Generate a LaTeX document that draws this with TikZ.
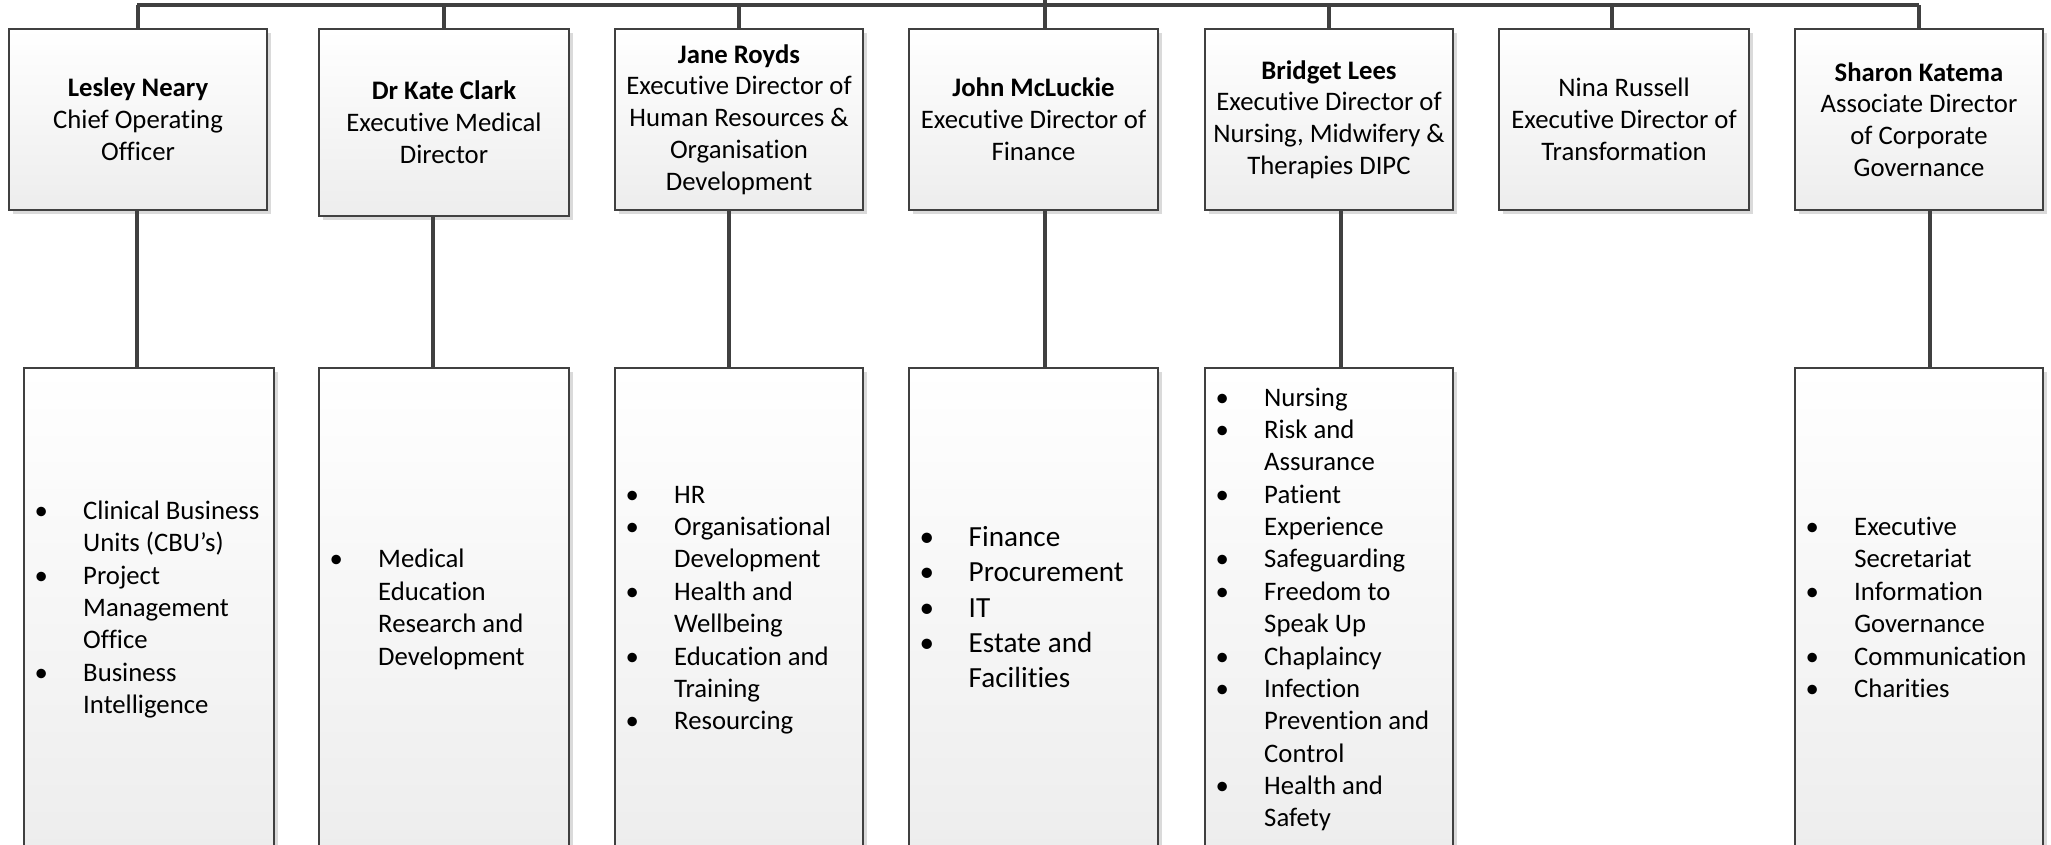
\documentclass[tikz,border=0pt]{standalone}
\usepackage{fontspec}
\setmainfont{Carlito}[Ligatures={NoCommon}, Contextuals={NoAlternate}]
\usepackage{xcolor}
\usepackage{tikz}
\usetikzlibrary{shadows}

\definecolor{linegrey}{HTML}{404040}
\definecolor{shadegrey}{HTML}{EDEDED}
\definecolor{shadowgrey}{HTML}{DADADA}

\begin{document}
\begin{tikzpicture}[x=0.01cm, y=-0.01cm,
	post/.style={rectangle, draw=linegrey, line width=0.45pt, top color=white, bottom color=shadegrey,
		general shadow={fill=shadowgrey, shadow xshift=0.04cm, shadow yshift=-0.04cm},
		minimum height=1.81cm, inner sep=1pt, align=center, font=\fontsize{7.6}{9.05}\selectfont},
	duties/.style={rectangle, draw=linegrey, line width=0.45pt, top color=white, bottom color=shadegrey,
		general shadow={fill=shadowgrey, shadow xshift=0.04cm, shadow yshift=-0.04cm},
		minimum height=4.84cm},
	items/.style={anchor=west, inner sep=0pt, font=\fontsize{7.6}{9.2}\selectfont},
	link/.style={draw=linegrey, line width=0.9pt}]
	\useasboundingbox (0,0) rectangle (2051,844);
	\clip (0,0) rectangle (2051,844);

	% directors
	\node[post, minimum width=2.58cm] (coo) at (138, 119.5) {\textbf{Lesley Neary}\\Chief Operating\\Officer};
	\node[post, minimum width=2.50cm, minimum height=1.87cm] (cmo) at (444, 122.5) {\textbf{Dr Kate Clark}\\Executive Medical\\Director};
	\node[post, minimum width=2.48cm] (hr) at (739, 119.5) {\textbf{Jane Royds}\\Executive Director of\\Human Resources \&\\Organisation\\Development};
	\node[post, minimum width=2.49cm] (fin) at (1033.5, 119.5) {\textbf{John McLuckie}\\Executive Director of\\Finance};
	\node[post, minimum width=2.48cm] (nur) at (1329, 119.5) {\textbf{Bridget Lees}\\Executive Director of\\Nursing, Midwifery \&\\Therapies DIPC};
	\node[post, minimum width=2.50cm] (tra) at (1624, 119.5) {Nina Russell\\Executive Director of\\Transformation};
	\node[post, minimum width=2.48cm] (gov) at (1919, 119.5) {\textbf{Sharon Katema}\\Associate Director\\of Corporate\\Governance};

	% portfolios
	\node[duties, minimum width=2.50cm] (cooL) at (149, 610) {};
	\node[duties, minimum width=2.50cm] (cmoL) at (444, 610) {};
	\node[duties, minimum width=2.48cm] (hrL) at (739, 610) {};
	\node[duties, minimum width=2.49cm] (finL) at (1033.5, 610) {};
	\node[duties, minimum width=2.48cm] (nurL) at (1329, 610) {};
	\node[duties, minimum width=2.48cm] (govL) at (1919, 610) {};

	\node[items] (cooI) at (34, 610) {\begin{tabular}{@{}p{0.485cm}@{}l@{}}
		\textbullet & Clinical Business\\
		 & Units (CBU’s)\\
		\textbullet & Project\\
		 & Management\\
		 & Office\\
		\textbullet & Business\\
		 & Intelligence
	\end{tabular}};
	\node[items] (cmoI) at (329, 610) {\begin{tabular}{@{}p{0.485cm}@{}l@{}}
		\textbullet & Medical\\
		 & Education\\
		 & Research and\\
		 & Development
	\end{tabular}};
	\node[items] (hrI) at (625, 610) {\begin{tabular}{@{}p{0.485cm}@{}l@{}}
		\textbullet & HR\\
		\textbullet & Organisational\\
		 & Development\\
		\textbullet & Health and\\
		 & Wellbeing\\
		\textbullet & Education and\\
		 & Training\\
		\textbullet & Resourcing
	\end{tabular}};
	\node[items, font=\fontsize{8.3}{10.05}\selectfont] (finI) at (919, 610) {\begin{tabular}{@{}p{0.49cm}@{}l@{}}
		\textbullet & Finance\\
		\textbullet & Procurement\\
		\textbullet & IT\\
		\textbullet & Estate and\\
		 & Facilities
	\end{tabular}};
	\node[items] (nurI) at (1215, 610) {\begin{tabular}{@{}p{0.485cm}@{}l@{}}
		\textbullet & Nursing\\
		\textbullet & Risk and\\
		 & Assurance\\
		\textbullet & Patient\\
		 & Experience\\
		\textbullet & Safeguarding\\
		\textbullet & Freedom to\\
		 & Speak Up\\
		\textbullet & Chaplaincy\\
		\textbullet & Infection\\
		 & Prevention and\\
		 & Control\\
		\textbullet & Health and\\
		 & Safety
	\end{tabular}};
	\node[items] (govI) at (1805, 610) {\begin{tabular}{@{}p{0.485cm}@{}l@{}}
		\textbullet & Executive\\
		 & Secretariat\\
		\textbullet & Information\\
		 & Governance\\
		\textbullet & Communication\\
		\textbullet & Charities
	\end{tabular}};

	% top bar
	\coordinate (root) at (1045, 0);
	\coordinate (busL) at (137, 5);
	\coordinate (busR) at (1919, 5);
	\coordinate (traT) at (1612, 5);
	\draw[link] (busL) -- (busR);
	\draw[link] (root) -- (fin.north -| root);
	\draw[link] (coo.north) -- (coo.north |- busL);
	\draw[link] (cmo.north) -- (cmo.north |- busL);
	\draw[link] (hr.north) -- (hr.north |- busL);
	\draw[link] (nur.north) -- (nur.north |- busL);
	\draw[link] (traT) -- (traT |- tra.north);
	\draw[link] (gov.north) -- (gov.north |- busL);

	% down to portfolios
	\coordinate (cooD) at (137, 210);
	\coordinate (cmoD) at (433, 216);
	\coordinate (hrD) at (729, 210);
	\coordinate (finD) at (1045, 210);
	\coordinate (nurD) at (1341, 210);
	\coordinate (govD) at (1930, 210);
	\draw[link] (cooD) -- (cooD |- cooL.north);
	\draw[link] (cmoD) -- (cmoD |- cmoL.north);
	\draw[link] (hrD) -- (hrD |- hrL.north);
	\draw[link] (finD) -- (finD |- finL.north);
	\draw[link] (nurD) -- (nurD |- nurL.north);
	\draw[link] (govD) -- (govD |- govL.north);
\end{tikzpicture}
\end{document}
